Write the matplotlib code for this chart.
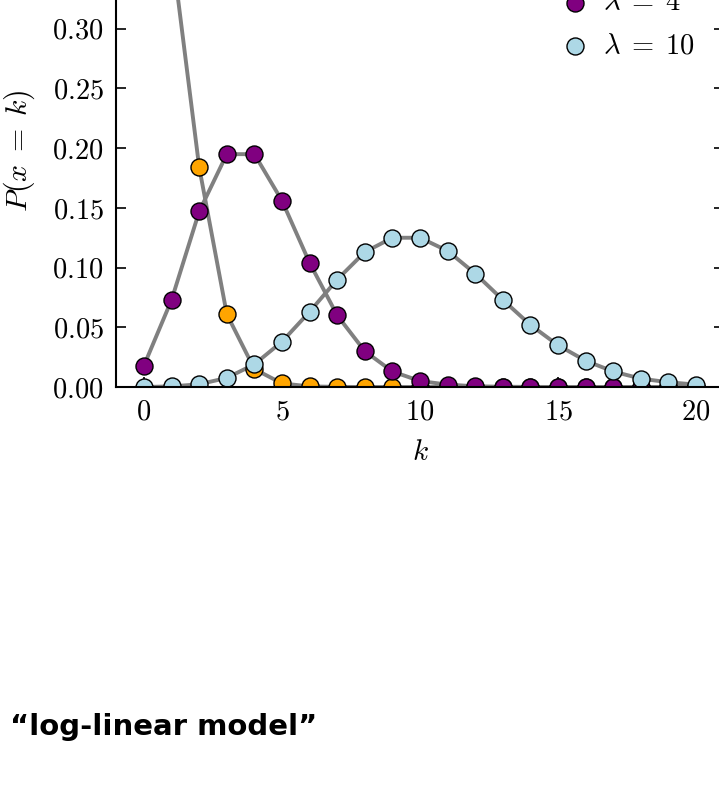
import matplotlib
matplotlib.use("Agg")
import matplotlib.pyplot as plt
from matplotlib.ticker import FormatStrFormatter

plt.rcParams['mathtext.fontset'] = 'cm'
plt.rcParams['font.family'] = 'serif'
plt.rcParams['font.serif'] = ['cmr10', 'DejaVu Serif']

# values, k = 0..20
k = list(range(21))
p_lam1 = [0.368, 0.368, 0.184, 0.061, 0.015, 0.003, 0.0005, 0.0001, 0, 0,
          0, 0, 0, 0, 0, 0, 0, 0, 0, 0, 0]
p_lam4 = [0.018, 0.073, 0.147, 0.195, 0.195, 0.156, 0.104, 0.060, 0.030, 0.013,
          0.005, 0.002, 0.0006, 0.0002, 0.0001, 0, 0, 0, 0, 0, 0]
p_lam10 = [0.0000, 0.0005, 0.0023, 0.0076, 0.019, 0.038, 0.063, 0.090, 0.113, 0.125,
           0.125, 0.114, 0.095, 0.073, 0.052, 0.035, 0.022, 0.013, 0.007, 0.004, 0.002]

series = [(p_lam1, 'orange', r'$\lambda\;=\;1$'),
          (p_lam4, 'purple', r'$\lambda\;=\;4$'),
          (p_lam10, 'lightblue', r'$\lambda\;=\;10$')]

fig = plt.figure(figsize=(7.19, 7.97), dpi=100)
# axes runs past the top and right edge of the figure (cropped look)
ax = fig.add_axes([116.4/719, 410/797, 607.2/719, 464/797])

for p, c, lab in series:
    ax.plot(k, p, color='gray', lw=2.8, zorder=1)
for p, c, lab in series:
    ax.scatter(k, p, s=150, color=c, edgecolor='black', linewidth=1.0,
               label=lab, zorder=2)

ax.set_xlim(-1, 21)
ax.set_ylim(0, 0.3886)
ax.set_xticks([0, 5, 10, 15, 20])
ax.set_yticks([0, 0.05, 0.10, 0.15, 0.20, 0.25, 0.30])
ax.xaxis.set_major_formatter(FormatStrFormatter('$%d$'))
ax.yaxis.set_major_formatter(FormatStrFormatter('$%.2f$'))
ax.tick_params(direction='in', labelsize=20.5, length=7, width=1.2,
               top=True, right=True, pad=9)
for s in ax.spines.values():
    s.set_linewidth(1.5)

ax.set_xlabel('$k$', fontsize=21, labelpad=10)
ax.set_ylabel(r'$P(x\;=\;k)$', fontsize=21.5)
ax.yaxis.set_label_coords(-0.13, 0.51)

ax.legend(loc='upper right', frameon=False, fontsize=20.5,
          handlelength=1.0, handletextpad=0.5, borderaxespad=0,
          labelspacing=0.6, bbox_to_anchor=(1 - 17/607.2, 1 - 12/464))

fig.text(10/719, 1 - 727/797, '\u201clog-linear model\u201d', fontsize=21,
         fontweight='bold', family='DejaVu Sans', va='center', ha='left')

fig.savefig('out.png', dpi=100)
